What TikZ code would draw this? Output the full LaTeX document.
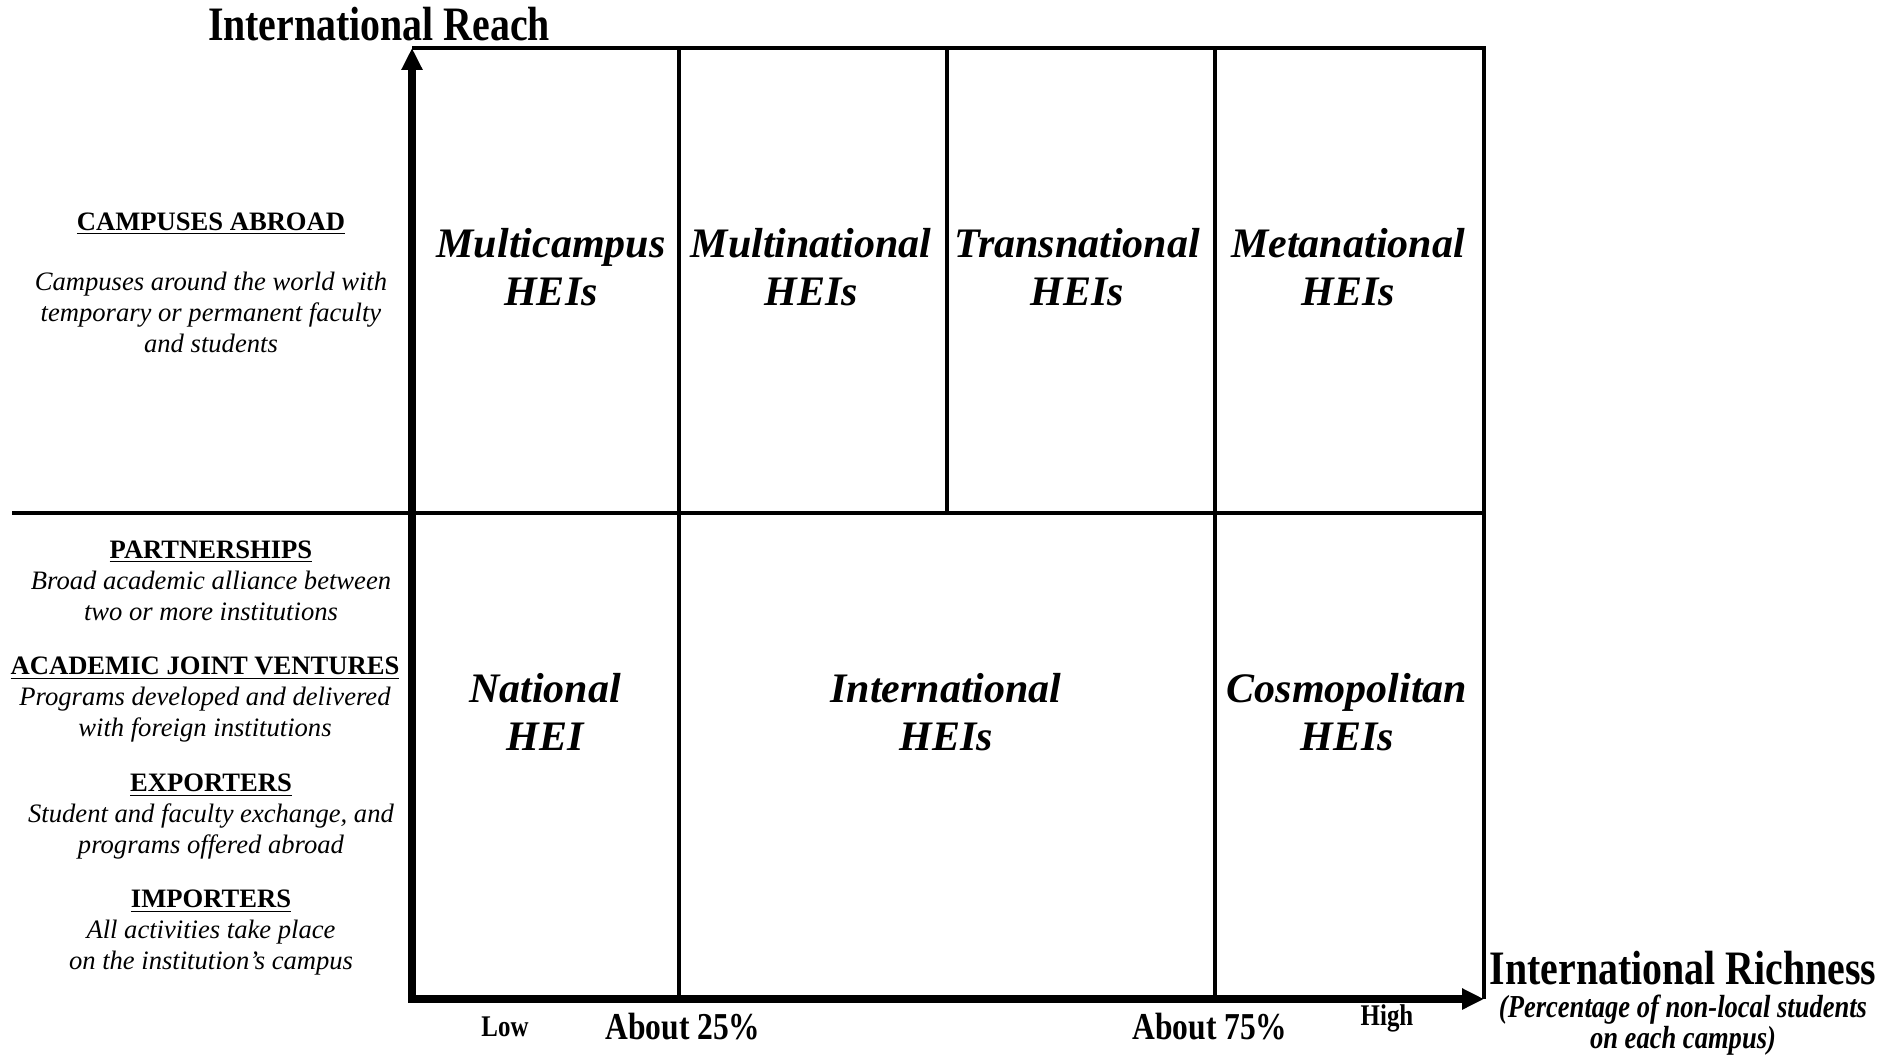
\documentclass[tikz,border=0pt]{standalone}
\usepackage{fontspec}
\setmainfont{Liberation Serif}
\newfontfamily\condensed[FakeStretch=0.83]{Liberation Serif}
\usetikzlibrary{arrows.meta}
\newcommand{\sidehead}[1]{{\upshape\bfseries\underline{#1}}}

\begin{document}
\begin{tikzpicture}[x=0.5pt,y=-0.5pt,
    grid/.style={line width=2pt},
    axis/.style={line width=4pt,line join=miter,
      {Triangle[length=11pt,width=10pt]}-{Triangle[length=11pt,width=10pt]}},
    cell/.style={align=center,font=\fontsize{21}{24}\selectfont\bfseries\itshape},
    side/.style={align=center,font=\fontsize{13.3}{15.5}\selectfont\itshape},
    title/.style={inner sep=1pt,font=\condensed\fontsize{24}{28}\selectfont\bfseries},
    tick/.style={font=\condensed\fontsize{19}{22}\selectfont\bfseries},
    small/.style={font=\condensed\fontsize{15}{18}\selectfont\bfseries}]
  \useasboundingbox (0,0) rectangle (1899,1054);
  % chart frame
  \coordinate (O) at (412,999);
  \coordinate (TL) at (412,48);
  \coordinate (TR) at (1484,48);
  \coordinate (BR) at (1484,999);
  \draw[grid] (TL) -- (TR) -- (BR);
  \draw[grid] (12,513) -- (TR|-0,513);
  \draw[grid] (679,48) -- (679,999);
  \draw[grid] (947,48) -- (947,513);
  \draw[grid] (1215,48) -- (1215,999);
  \draw[axis] (TL) -- (O) -- (BR);
  % axis titles
  \node[title] (reach) at (379,24) {International Reach};
  \node[title] (rich) at (1683,968) {International Richness};
  \node[inner sep=1pt,align=center,font=\condensed\fontsize{16}{15.5}\selectfont\bfseries\itshape] (richsub) at (1683,1025)
    {(Percentage of non-local students\\on each campus)};
  \node[small] (low) at (505,1027) {Low};
  \node[tick] (p25) at (683,1027) {About 25\%};
  \node[tick] (p75) at (1210,1027) {About 75\%};
  \node[small] (high) at (1387,1018) {High};
  % cells
  \node[cell] (multicampus) at (551,267) {Multicampus\\HEIs};
  \node[cell] (multinational) at (811,267) {Multinational\\HEIs};
  \node[cell] (transnational) at (1077,267) {Transnational\\HEIs};
  \node[cell] (metanational) at (1348,267) {Metanational\\HEIs};
  \node[cell] (national) at (545,712) {National\\HEI};
  \node[cell] (international) at (946,712) {International\\HEIs};
  \node[cell] (cosmopolitan) at (1347,712) {Cosmopolitan\\HEIs};
  % reach levels
  \node[side] (abroad) at (211,224) {\sidehead{CAMPUSES ABROAD}};
  \node[side] (abroadtxt) at (211,312) {Campuses around the world with\\temporary or permanent faculty\\and students};
  \node[side] (partner) at (211,581) {\sidehead{PARTNERSHIPS}\\Broad academic alliance between\\two or more institutions};
  \node[side] (joint) at (205,700) {\sidehead{ACADEMIC JOINT VENTURES}\\Programs developed and delivered\\with foreign institutions};
  \node[side] (exporter) at (211,817) {\sidehead{EXPORTERS}\\Student and faculty exchange, and\\programs offered abroad};
  \node[side] (importer) at (211,933) {\sidehead{IMPORTERS}\\All activities take place\\on the institution’s campus};
\end{tikzpicture}
\end{document}
